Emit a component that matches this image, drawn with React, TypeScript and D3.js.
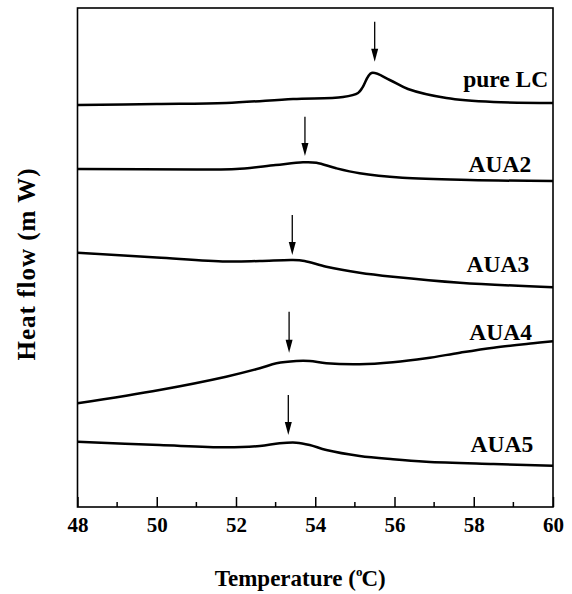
import React, { useRef, useEffect } from 'react';
import * as d3 from 'd3';

// temperature (°C) and heat flow (arbitrary, offset per trace)
const pureLcT = [48, 50, 51.75, 53.44, 54.7, 55.08, 55.2, 55.42, 55.88, 56.34, 57.31, 58.5, 60];
const pureLcH = [402, 403, 404, 408, 410, 414, 420, 434, 427, 418, 409, 405, 404];

const aua2T = [48, 51.0, 52.0, 53.0, 53.69, 54.03, 54.53, 55.12, 56.2, 57.9, 60];
const aua2H = [338, 337.6, 338, 342, 344.7, 344.3, 338.7, 333.7, 329.3, 327, 326];

const aua3T = [48, 50.0, 51.75, 52.6, 53.44, 53.73, 54.28, 55.12, 55.96, 57.65, 60];
const aua3H = [254.3, 249.5, 245.5, 246, 247, 246, 240.3, 234.3, 230.3, 224.3, 219.7];

const aua4T = [48, 50.07, 51.75, 52.6, 53.02, 53.52, 53.86, 54.28, 55.12, 55.96, 56.8, 57.65, 58.5, 59.5, 60];
const aua4H = [103.7, 117, 130.3, 138.7, 143.7, 146, 146, 143.7, 142.7, 144.7, 148.7, 154.3, 159.3, 163.7, 165.7];

const aua5T = [48, 50.07, 51.75, 52.6, 53.1, 53.52, 53.86, 54.28, 55.12, 55.96, 56.8, 58.5, 60];
const aua5H = [65.3, 62, 59.7, 61, 63.7, 64.3, 62, 57, 51, 47.7, 45.3, 43, 41.3];

const seriesNames = ['pure LC', 'AUA2', 'AUA3', 'AUA4', 'AUA5'];
const seriesT = [pureLcT, aua2T, aua3T, aua4T, aua5T];
const seriesH = [pureLcH, aua2H, aua3H, aua4H, aua5H];

// transition arrows: temperature, arrow top, arrow tip
const arrowT = [55.5, 53.74, 53.42, 53.34, 53.32];
const arrowTop = [485.3, 390.3, 292, 195.3, 112];
const arrowTip = [445.3, 351, 252, 154.3, 72];

// label anchor (right end) and baseline
const labelT = [59.88, 59.45, 59.4, 59.47, 59.5];
const labelH = [420, 335, 235.3, 167, 55.3];

const majorTicks = [48, 50, 52, 54, 56, 58, 60];
const minorTicks = [49, 51, 53, 55, 57, 59];

const FONT = '"Liberation Serif", "Times New Roman", serif';

function DscChart() {
  const svgRef = useRef(null);

  useEffect(() => {
    const width = 572;
    const height = 594;
    const margin = { top: 8, right: 19, bottom: 87, left: 77.5 };
    const plotW = width - margin.left - margin.right;
    const plotH = height - margin.top - margin.bottom;

    const svgEl = d3.select(svgRef.current);
    svgEl.selectAll('*').remove();

    const xScale = d3.scaleLinear().domain([48, 60]).range([0, plotW]);
    const yScale = d3.scaleLinear().domain([0, plotH]).range([plotH, 0]);

    const svg = svgEl.append('g').attr('transform', `translate(${margin.left},${margin.top})`);

    // frame
    svg
      .append('rect')
      .attr('x', 0)
      .attr('y', 0)
      .attr('width', plotW)
      .attr('height', plotH)
      .attr('fill', 'none')
      .attr('stroke', '#000')
      .attr('stroke-width', 1.6);

    // x axis, ticks pointing inward
    const xAxis = d3
      .axisBottom(xScale)
      .tickValues(majorTicks)
      .tickSizeInner(-10)
      .tickSizeOuter(0)
      .tickPadding(10)
      .tickFormat(d3.format('d'));

    const xAxisGroup = svg.append('g').attr('transform', `translate(0, ${plotH})`).call(xAxis);
    xAxisGroup.select('.domain').remove();
    xAxisGroup.selectAll('line').attr('stroke-width', 1.5);
    xAxisGroup
      .selectAll('text')
      .attr('font-family', FONT)
      .attr('font-weight', 'bold')
      .attr('font-size', 21)
      .attr('fill', '#000');

    svg
      .selectAll('.minor')
      .data(minorTicks)
      .enter()
      .append('line')
      .attr('class', 'minor')
      .attr('x1', (d) => xScale(d))
      .attr('x2', (d) => xScale(d))
      .attr('y1', plotH)
      .attr('y2', plotH - 5)
      .attr('stroke', '#000')
      .attr('stroke-width', 1.5);

    // traces
    const line = d3
      .line()
      .x((d) => xScale(d[0]))
      .y((d) => yScale(d[1]))
      .curve(d3.curveCatmullRom.alpha(0.5));

    seriesNames.forEach((name, i) => {
      const pts = seriesT[i].map((t, j) => [t, seriesH[i][j]]);
      svg
        .append('path')
        .attr('d', line(pts))
        .attr('fill', 'none')
        .attr('stroke', '#000')
        .attr('stroke-width', 2.5)
        .attr('stroke-linejoin', 'round');

      svg
        .append('text')
        .attr('x', xScale(labelT[i]))
        .attr('y', yScale(labelH[i]))
        .attr('text-anchor', 'end')
        .attr('font-family', FONT)
        .attr('font-weight', 'bold')
        .attr('font-size', 23.5)
        .text(name);

      // arrow
      const ax = xScale(arrowT[i]);
      const yTop = yScale(arrowTop[i]);
      const yTip = yScale(arrowTip[i]);
      svg
        .append('line')
        .attr('x1', ax)
        .attr('x2', ax)
        .attr('y1', yTop)
        .attr('y2', yTip - 10)
        .attr('stroke', '#000')
        .attr('stroke-width', 1.3);
      svg
        .append('path')
        .attr('d', `M${ax - 3.5},${yTip - 13}L${ax + 3.5},${yTip - 13}L${ax},${yTip}Z`)
        .attr('fill', '#000');
    });

    // axis titles
    const xTitle = svgEl
      .append('text')
      .attr('x', margin.left + plotW / 2 - 15)
      .attr('y', 586)
      .attr('text-anchor', 'middle')
      .attr('font-family', FONT)
      .attr('font-weight', 'bold')
      .attr('font-size', 23);
    xTitle.append('tspan').text('Temperature (');
    xTitle.append('tspan').attr('dy', -10).attr('font-size', 13).text('o');
    xTitle.append('tspan').attr('dy', 10).attr('dx', -1).text('C)');

    svgEl
      .append('text')
      .attr('transform', `translate(35, 264) rotate(-90)`)
      .attr('text-anchor', 'middle')
      .attr('font-family', FONT)
      .attr('font-weight', 'bold')
      .attr('font-size', 25)
      .attr('letter-spacing', 1)
      .text('Heat flow (m W)');
  }, []);

  return (
    <svg
      ref={svgRef}
      width={572}
      height={594}
      style={{ position: 'absolute', left: 0, top: 0, background: '#fff' }}
    />
  );
}

export default function App() {
  return <DscChart />;
}
